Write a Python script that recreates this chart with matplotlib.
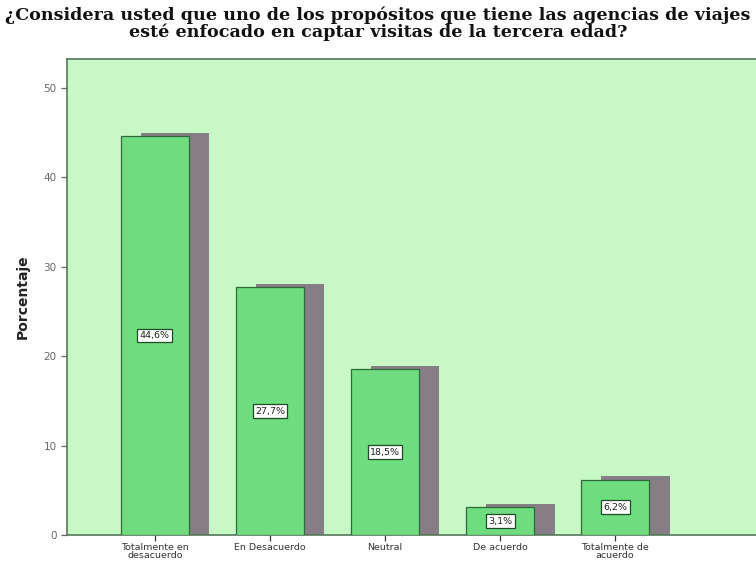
import matplotlib
matplotlib.use("Agg")
import matplotlib.pyplot as plt
import numpy as np

# respuestas y porcentajes
categorias = ["Totalmente en\ndesacuerdo", "En Desacuerdo", "Neutral",
              "De acuerdo", "Totalmente de\nacuerdo"]
porcentajes = [44.6, 27.7, 18.5, 3.1, 6.2]
etiquetas = ["44,6%", "27,7%", "18,5%", "3,1%", "6,2%"]
yticks = [0, 10, 20, 30, 40, 50]

fondo = "#c8f8c6"
verde = "#6fdc80"
sombra = "#857f85"
borde = "#2f6b3a"

fig = plt.figure(figsize=(7.56, 5.68), dpi=100)
ax = fig.add_axes([0.0886, 0.0581, 0.92, 0.838])
ax.set_facecolor(fondo)

x = np.arange(len(categorias))
ancho = 0.596
desp_x = 0.175   # sombra hacia la derecha
desp_y = 0.35    # y un poco hacia arriba

ax.bar(x + desp_x, [p + desp_y for p in porcentajes], width=ancho,
       color=sombra, edgecolor="none", zorder=2)
ax.bar(x, porcentajes, width=ancho, color=verde, edgecolor=borde,
       linewidth=0.9, zorder=3)

for xi, p, t in zip(x, porcentajes, etiquetas):
    ax.text(xi, p / 2, t, ha="center", va="center", fontsize=6.8,
            color="#222222", zorder=4,
            bbox=dict(boxstyle="square,pad=0.25", fc="white",
                      ec="#1f4a28", lw=0.9))

ax.set_xlim(-0.763, 5.28)
ax.set_ylim(0, 53.2)
ax.set_yticks(yticks)
ax.set_xticks(x)
ax.set_xticklabels(categorias, fontsize=6.8, color="#333333",
                   linespacing=0.85)
ax.tick_params(axis="y", labelsize=7.5, colors="#666666", length=4,
               width=0.9)
ax.tick_params(axis="x", length=4, width=0.9, colors="#333333", pad=2)
for s in ["left", "top", "bottom"]:
    ax.spines[s].set_color("#55775a")
    ax.spines[s].set_linewidth(1.2)
ax.spines["right"].set_visible(False)

ax.set_ylabel("Porcentaje", fontsize=10, fontweight="bold",
              color="#222222", labelpad=10)

fig.text(0.5, 0.988,
         "¿Considera usted que uno de los propósitos que tiene las agencias de viajes\n"
         "esté enfocado en captar visitas de la tercera edad?",
         ha="center", va="top", fontsize=12.6, fontweight="bold",
         family="DejaVu Serif", color="#111111", linespacing=0.95)

fig.savefig("out.png", dpi=100)
